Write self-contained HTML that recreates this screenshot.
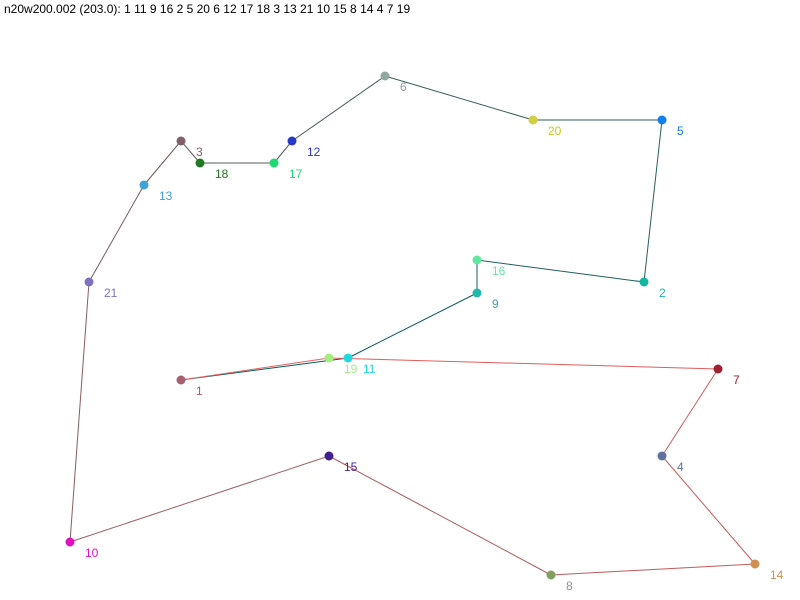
<!DOCTYPE html>
<html><head><meta charset="utf-8"><style>
html,body{margin:0;padding:0;background:#fff;}
svg{display:block;}
text{font-family:"Liberation Sans",sans-serif;font-size:12px;}
</style></head><body>
<svg width="800" height="600" xmlns="http://www.w3.org/2000/svg">
<text x="4" y="13" fill="#000" style="font-size:12px">n20w200.002 (203.0): 1 11 9 16 2 5 20 6 12 17 18 3 13 21 10 15 8 14 4 7 19</text>
<g stroke-width="1" fill="none">
<line x1="181" y1="380" x2="348" y2="358" stroke="#006060"/>
<line x1="348" y1="358" x2="477" y2="293" stroke="#0a5f5f"/>
<line x1="477" y1="293" x2="477" y2="260" stroke="#145e5e"/>
<line x1="477" y1="260" x2="644" y2="282" stroke="#1e5e5e"/>
<line x1="644" y1="282" x2="662" y2="120" stroke="#285d5d"/>
<line x1="662" y1="120" x2="533" y2="120" stroke="#325d5d"/>
<line x1="533" y1="120" x2="385" y2="76" stroke="#3c5c5c"/>
<line x1="385" y1="76" x2="292" y2="141" stroke="#465c5c"/>
<line x1="292" y1="141" x2="274" y2="163" stroke="#505b5b"/>
<line x1="274" y1="163" x2="200" y2="163" stroke="#5a5b5b"/>
<line x1="200" y1="163" x2="181" y2="141" stroke="#645a5a"/>
<line x1="181" y1="141" x2="144" y2="185" stroke="#6e5a5a"/>
<line x1="144" y1="185" x2="89" y2="282" stroke="#7a5a5a"/>
<line x1="89" y1="282" x2="70" y2="542" stroke="#8c5c5c"/>
<line x1="70" y1="542" x2="329" y2="456" stroke="#a06060"/>
<line x1="329" y1="456" x2="551" y2="575" stroke="#b05c5c"/>
<line x1="551" y1="575" x2="755" y2="564" stroke="#c05a5a"/>
<line x1="755" y1="564" x2="662" y2="456" stroke="#d05a5a"/>
<line x1="662" y1="456" x2="718" y2="369" stroke="#d85a5a"/>
<line x1="718" y1="369" x2="329" y2="358" stroke="#e05c5c"/>
<line x1="329" y1="358" x2="181" y2="380" stroke="#e86060"/>
</g>
<g>
<circle cx="181" cy="380" r="4.5" fill="#a86070"/><text x="196" y="395" fill="#a86070">1</text>
<circle cx="348" cy="358" r="4.5" fill="#20d8e0"/><text x="363" y="373" fill="#20d8e0">11</text>
<circle cx="329" cy="358" r="4.5" fill="#a0f080"/><text x="344" y="373" fill="#a0f080">19</text>
<circle cx="477" cy="293" r="4.5" fill="#20b8a8"/><text x="492" y="308" fill="#40a0a0">9</text>
<circle cx="477" cy="260" r="4.5" fill="#60e8a0"/><text x="492" y="275" fill="#60e8a0">16</text>
<circle cx="644" cy="282" r="4.5" fill="#10b8a0"/><text x="659" y="297" fill="#10b8b0">2</text>
<circle cx="662" cy="120" r="4.5" fill="#1080f0"/><text x="677" y="135" fill="#1080f0">5</text>
<circle cx="533" cy="120" r="4.5" fill="#d0d040"/><text x="548" y="135" fill="#c8c820">20</text>
<circle cx="385" cy="76" r="4.5" fill="#90a8a0"/><text x="400" y="91" fill="#90a0a0">6</text>
<circle cx="292" cy="141" r="4.5" fill="#2838c8"/><text x="307" y="156" fill="#2838c8">12</text>
<circle cx="274" cy="163" r="4.5" fill="#20d870"/><text x="289" y="178" fill="#20d870">17</text>
<circle cx="200" cy="163" r="4.5" fill="#207820"/><text x="215" y="178" fill="#207820">18</text>
<circle cx="181" cy="141" r="4.5" fill="#806068"/><text x="196" y="156" fill="#806068">3</text>
<circle cx="144" cy="185" r="4.5" fill="#40a0d8"/><text x="159" y="200" fill="#40a0d8">13</text>
<circle cx="89" cy="282" r="4.5" fill="#8070c0"/><text x="104" y="297" fill="#8070c0">21</text>
<circle cx="70" cy="542" r="4.5" fill="#e010c0"/><text x="85" y="557" fill="#e010c0">10</text>
<circle cx="329" cy="456" r="4.5" fill="#402090"/><text x="344" y="471" fill="#402090">15</text>
<circle cx="551" cy="575" r="4.5" fill="#80a060"/><text x="566" y="590" fill="#909090">8</text>
<circle cx="755" cy="564" r="4.5" fill="#d09050"/><text x="770" y="579" fill="#d09050">14</text>
<circle cx="662" cy="456" r="4.5" fill="#6070a0"/><text x="677" y="471" fill="#6070a0">4</text>
<circle cx="718" cy="369" r="4.5" fill="#a02030"/><text x="733" y="384" fill="#a02030">7</text>
</g>
</svg>
</body></html>
